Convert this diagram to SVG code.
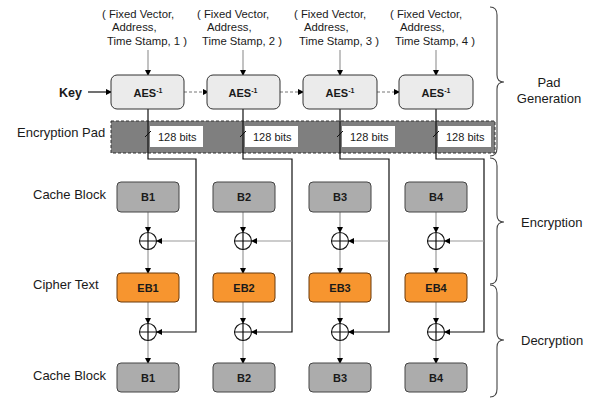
<svg xmlns="http://www.w3.org/2000/svg" width="593" height="399" viewBox="0 0 593 399">
<defs>
<marker id="ah" markerWidth="6" markerHeight="6" refX="5" refY="3" orient="auto" markerUnits="userSpaceOnUse">
<path d="M0,0 L6,3 L0,6 Z" fill="#000"/>
</marker>
<style>
text{font-family:"Liberation Sans",Arial,sans-serif;fill:#1a1a1a}
.lbl{font-size:13px}
.in{font-size:11.3px}
.b{font-weight:bold;font-size:11px;text-anchor:middle}
.aes{fill:#ebebeb;stroke:#333;stroke-width:1}
.cb{fill:#acacac;stroke:#444;stroke-width:1}
.eb{fill:#f7952f;stroke:#6b3a0c;stroke-width:1}
.g{stroke:#999;stroke-width:1.2;fill:none}
.k{stroke:#111;stroke-width:1.2;fill:none}
.dash{stroke:#777;stroke-width:1;stroke-dasharray:3,2;fill:none}
.xor{fill:#fff;stroke:#111;stroke-width:1.1}
.brace{fill:none;stroke:#444;stroke-width:1.1}
</style>
</defs>

<!-- left labels -->
<text class="lbl" x="17" y="137">Encryption Pad</text>
<text class="lbl" x="33" y="199">Cache Block</text>
<text class="lbl" x="33" y="289">Cipher Text</text>
<text class="lbl" x="33" y="380">Cache Block</text>
<text x="59" y="97" style="font-weight:bold;font-size:12.5px">Key</text>

<!-- encryption pad -->
<g id="pad">
<rect x="111" y="121" width="384" height="32" fill="#7f7f7f" stroke="#333" stroke-width="1" stroke-dasharray="3,2"/>
<rect x="150" y="126" width="53" height="21" fill="#fff"/>
<rect x="245" y="126" width="53" height="21" fill="#fff"/>
<rect x="342" y="126" width="53" height="21" fill="#fff"/>
<rect x="438" y="126" width="53" height="21" fill="#fff"/>
<text class="in" x="158" y="141" style="font-size:11px">128 bits</text>
<text class="in" x="253" y="141" style="font-size:11px">128 bits</text>
<text class="in" x="350" y="141" style="font-size:11px">128 bits</text>
<text class="in" x="446" y="141" style="font-size:11px">128 bits</text>
</g>

<!-- inputs -->
<g id="inputs">
<text class="in" x="102" y="18">( Fixed Vector,</text>
<text class="in" x="112" y="31">Address,</text>
<text class="in" x="107" y="45">Time Stamp, 1 )</text>
<text class="in" x="197" y="18">( Fixed Vector,</text>
<text class="in" x="207" y="31">Address,</text>
<text class="in" x="202" y="45">Time Stamp, 2 )</text>
<text class="in" x="294" y="18">( Fixed Vector,</text>
<text class="in" x="304" y="31">Address,</text>
<text class="in" x="299" y="45">Time Stamp, 3 )</text>
<text class="in" x="390" y="18">( Fixed Vector,</text>
<text class="in" x="400" y="31">Address,</text>
<text class="in" x="395" y="45">Time Stamp, 4 )</text>
</g>

<!-- connectors -->
<g id="connectors">
<line x1="88" y1="92" x2="111" y2="92" class="k" stroke-width="1" marker-end="url(#ah)"/>
<line x1="184" y1="92" x2="208" y2="92" class="dash" marker-end="url(#ah)"/>
<line x1="280" y1="92" x2="303" y2="92" class="dash" marker-end="url(#ah)"/>
<line x1="377" y1="92" x2="399" y2="92" class="dash" marker-end="url(#ah)"/>

<line x1="148" y1="50" x2="148" y2="75" class="g" marker-end="url(#ah)"/>
<line x1="243" y1="50" x2="243" y2="75" class="g" marker-end="url(#ah)"/>
<line x1="340" y1="50" x2="340" y2="75" class="g" marker-end="url(#ah)"/>
<line x1="436" y1="50" x2="436" y2="75" class="g" marker-end="url(#ah)"/>

<polyline points="148,109 148,159 196,159 196,332 157,332" class="k" marker-end="url(#ah)"/>
<polyline points="243,109 243,159 292,159 292,332 252,332" class="k" marker-end="url(#ah)"/>
<polyline points="340,109 340,159 389,159 389,332 349,332" class="k" marker-end="url(#ah)"/>
<polyline points="436,109 436,159 484,159 484,332 445,332" class="k" marker-end="url(#ah)"/>

<line x1="145" y1="137" x2="151" y2="131" stroke="#111" stroke-width="1"/>
<line x1="240" y1="137" x2="246" y2="131" stroke="#111" stroke-width="1"/>
<line x1="337" y1="137" x2="343" y2="131" stroke="#111" stroke-width="1"/>
<line x1="433" y1="137" x2="439" y2="131" stroke="#111" stroke-width="1"/>

<line x1="196" y1="241" x2="157" y2="241" class="g" marker-end="url(#ah)"/>
<line x1="292" y1="241" x2="252" y2="241" class="g" marker-end="url(#ah)"/>
<line x1="389" y1="241" x2="349" y2="241" class="g" marker-end="url(#ah)"/>
<line x1="484" y1="241" x2="445" y2="241" class="g" marker-end="url(#ah)"/>

<line x1="148" y1="212" x2="148" y2="232" class="g" marker-end="url(#ah)"/>
<line x1="148" y1="250" x2="148" y2="273" class="g" marker-end="url(#ah)"/>
<line x1="148" y1="302" x2="148" y2="323" class="g" marker-end="url(#ah)"/>
<line x1="148" y1="341" x2="148" y2="363" class="g" marker-end="url(#ah)"/>
<line x1="243" y1="212" x2="243" y2="232" class="g" marker-end="url(#ah)"/>
<line x1="243" y1="250" x2="243" y2="273" class="g" marker-end="url(#ah)"/>
<line x1="243" y1="302" x2="243" y2="323" class="g" marker-end="url(#ah)"/>
<line x1="243" y1="341" x2="243" y2="363" class="g" marker-end="url(#ah)"/>
<line x1="340" y1="212" x2="340" y2="232" class="g" marker-end="url(#ah)"/>
<line x1="340" y1="250" x2="340" y2="273" class="g" marker-end="url(#ah)"/>
<line x1="340" y1="302" x2="340" y2="323" class="g" marker-end="url(#ah)"/>
<line x1="340" y1="341" x2="340" y2="363" class="g" marker-end="url(#ah)"/>
<line x1="436" y1="212" x2="436" y2="232" class="g" marker-end="url(#ah)"/>
<line x1="436" y1="250" x2="436" y2="273" class="g" marker-end="url(#ah)"/>
<line x1="436" y1="302" x2="436" y2="323" class="g" marker-end="url(#ah)"/>
<line x1="436" y1="341" x2="436" y2="363" class="g" marker-end="url(#ah)"/>
</g>

<!-- AES nodes -->
<g id="aes1"><rect class="aes" x="111" y="75" width="73" height="34" rx="6"/><text class="b" x="148" y="97">AES<tspan font-size="7" dy="-4">-1</tspan></text></g>
<g id="aes2"><rect class="aes" x="207" y="75" width="73" height="34" rx="6"/><text class="b" x="243" y="97">AES<tspan font-size="7" dy="-4">-1</tspan></text></g>
<g id="aes3"><rect class="aes" x="303" y="75" width="74" height="34" rx="6"/><text class="b" x="340" y="97">AES<tspan font-size="7" dy="-4">-1</tspan></text></g>
<g id="aes4"><rect class="aes" x="399" y="75" width="74" height="34" rx="6"/><text class="b" x="436" y="97">AES<tspan font-size="7" dy="-4">-1</tspan></text></g>

<!-- cache blocks -->
<g id="b1"><rect class="cb" x="117" y="182" width="62" height="30" rx="4"/><text class="b" x="148" y="201">B1</text></g>
<g id="b2"><rect class="cb" x="213" y="182" width="62" height="30" rx="4"/><text class="b" x="244" y="201">B2</text></g>
<g id="b3"><rect class="cb" x="309" y="182" width="62" height="30" rx="4"/><text class="b" x="340" y="201">B3</text></g>
<g id="b4"><rect class="cb" x="405" y="182" width="62" height="30" rx="4"/><text class="b" x="436" y="201">B4</text></g>

<!-- xor encryption -->
<g id="x1"><circle class="xor" cx="148" cy="241" r="8.5"/><path class="k" stroke-width="1" d="M139.5,241H156.5M148,232.5V249.5"/></g>
<g id="x2"><circle class="xor" cx="243" cy="241" r="8.5"/><path class="k" stroke-width="1" d="M234.5,241H251.5M243,232.5V249.5"/></g>
<g id="x3"><circle class="xor" cx="340" cy="241" r="8.5"/><path class="k" stroke-width="1" d="M331.5,241H348.5M340,232.5V249.5"/></g>
<g id="x4"><circle class="xor" cx="436" cy="241" r="8.5"/><path class="k" stroke-width="1" d="M427.5,241H444.5M436,232.5V249.5"/></g>

<!-- cipher blocks -->
<g id="eb1"><rect class="eb" x="117" y="273" width="62" height="29" rx="4"/><text class="b" x="148" y="292">EB1</text></g>
<g id="eb2"><rect class="eb" x="213" y="273" width="62" height="29" rx="4"/><text class="b" x="244" y="292">EB2</text></g>
<g id="eb3"><rect class="eb" x="309" y="273" width="62" height="29" rx="4"/><text class="b" x="340" y="292">EB3</text></g>
<g id="eb4"><rect class="eb" x="405" y="273" width="62" height="29" rx="4"/><text class="b" x="436" y="292">EB4</text></g>

<!-- xor decryption -->
<g id="y1"><circle class="xor" cx="148" cy="332" r="8.5"/><path class="k" stroke-width="1" d="M139.5,332H156.5M148,323.5V340.5"/></g>
<g id="y2"><circle class="xor" cx="243" cy="332" r="8.5"/><path class="k" stroke-width="1" d="M234.5,332H251.5M243,323.5V340.5"/></g>
<g id="y3"><circle class="xor" cx="340" cy="332" r="8.5"/><path class="k" stroke-width="1" d="M331.5,332H348.5M340,323.5V340.5"/></g>
<g id="y4"><circle class="xor" cx="436" cy="332" r="8.5"/><path class="k" stroke-width="1" d="M427.5,332H444.5M436,323.5V340.5"/></g>

<!-- decrypted blocks -->
<g id="d1"><rect class="cb" x="117" y="363" width="62" height="29" rx="4"/><text class="b" x="148" y="382">B1</text></g>
<g id="d2"><rect class="cb" x="213" y="363" width="62" height="29" rx="4"/><text class="b" x="244" y="382">B2</text></g>
<g id="d3"><rect class="cb" x="309" y="363" width="62" height="29" rx="4"/><text class="b" x="340" y="382">B3</text></g>
<g id="d4"><rect class="cb" x="405" y="363" width="62" height="29" rx="4"/><text class="b" x="436" y="382">B4</text></g>

<!-- braces -->
<g id="braces">
<path class="brace" d="M490,7 Q497,7 497,15 L497,75 Q497,82 504,82 Q497,82 497,89 L497,148 Q497,156 490,156"/>
<path class="brace" d="M490,158 Q497,158 497,166 L497,215 Q497,222 504,222 Q497,222 497,229 L497,276 Q497,284 490,284"/>
<path class="brace" d="M490,285 Q497,285 497,293 L497,333 Q497,340 504,340 Q497,340 497,347 L497,389 Q497,397 490,397"/>
<text class="lbl" x="549" y="87" text-anchor="middle">Pad</text>
<text class="lbl" x="549" y="103" text-anchor="middle">Generation</text>
<text class="lbl" x="521" y="227">Encryption</text>
<text class="lbl" x="521" y="345">Decryption</text>
</g>
</svg>
